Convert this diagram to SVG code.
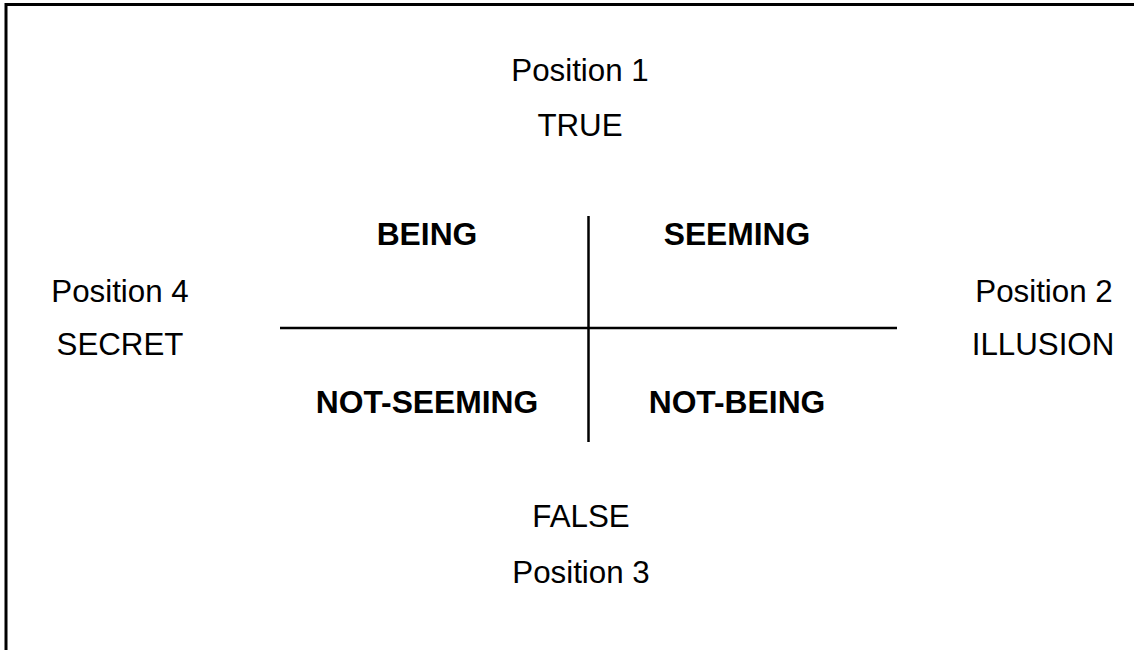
<svg xmlns="http://www.w3.org/2000/svg" width="1134" height="650" viewBox="0 0 1134 650">
<style>
.t{font-family:"Liberation Sans",Arial,sans-serif;font-size:31.3px;fill:#000;text-anchor:middle}
.b{font-family:"Liberation Sans",Arial,sans-serif;font-size:31.8px;font-weight:bold;fill:#000;text-anchor:middle}
.ln{stroke:#000;stroke-width:2.5;fill:none}
</style>
<rect width="1134" height="650" fill="#fff"/>
<path d="M6,650 V4.5 H1134" stroke="#000" stroke-width="3" fill="none"/>
<g id="connectors">
<line class="ln" x1="588.5" y1="216" x2="588.5" y2="442"/>
<line class="ln" x1="280" y1="328" x2="897" y2="328"/>
</g>
<g id="position1"><text class="t" x="580" y="81">Position 1</text><text class="t" x="580" y="136">TRUE</text></g>
<g id="position2"><text class="t" x="1044" y="302">Position 2</text><text class="t" x="1043" y="355">ILLUSION</text></g>
<g id="position3"><text class="t" x="581" y="527">FALSE</text><text class="t" x="581" y="583">Position 3</text></g>
<g id="position4"><text class="t" x="120" y="302">Position 4</text><text class="t" x="120" y="355">SECRET</text></g>
<g id="being"><text class="b" x="427" y="245">BEING</text></g>
<g id="seeming"><text class="b" x="737" y="245">SEEMING</text></g>
<g id="not-seeming"><text class="b" x="427" y="413">NOT-SEEMING</text></g>
<g id="not-being"><text class="b" x="737" y="413">NOT-BEING</text></g>
</svg>
